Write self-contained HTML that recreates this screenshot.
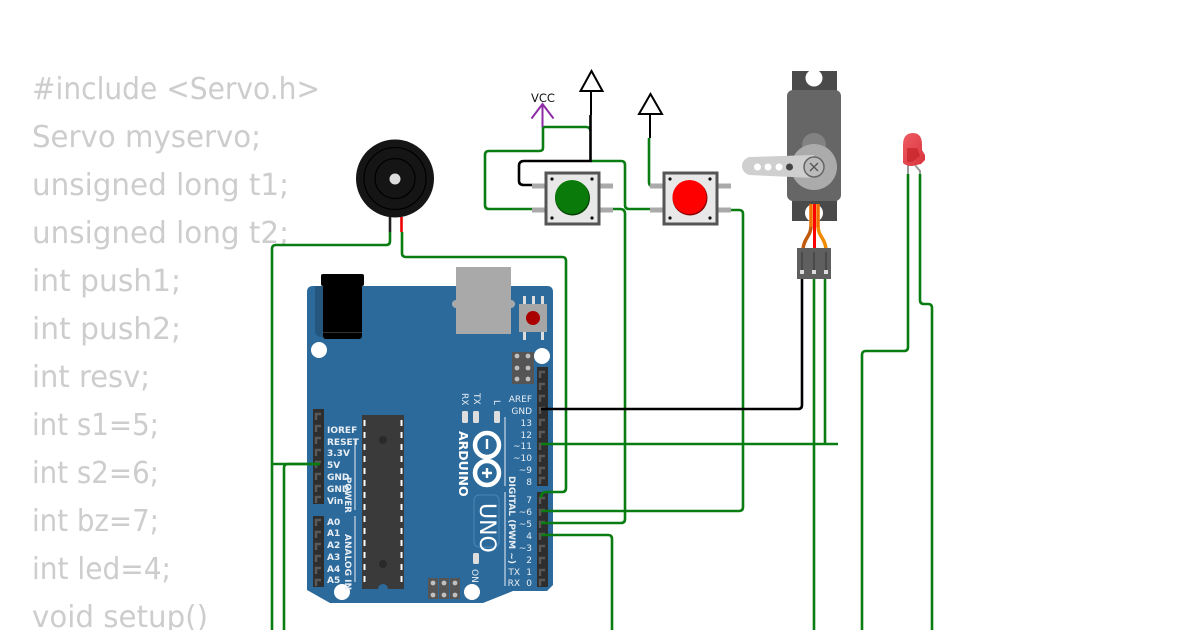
<!DOCTYPE html>
<html><head><meta charset="utf-8"><style>
html,body{margin:0;padding:0;background:#fff;width:1200px;height:630px;overflow:hidden}
svg{display:block}
.c{font-family:"DejaVu Sans","Liberation Sans",sans-serif;font-size:30px;fill:#cdcdcd}
.p{font-family:"DejaVu Sans","Liberation Sans",sans-serif;font-size:9px;fill:#e8eef4}
.b{font-weight:bold}
.w{fill:none;stroke:#0a7d12;stroke-width:2.6;stroke-linejoin:round}
.k{fill:none;stroke:#000;stroke-width:2.6}
</style></head><body>
<svg width="1200" height="630" viewBox="0 0 1200 630" xmlns="http://www.w3.org/2000/svg">
<defs>
<linearGradient id="led" x1="0" y1="0" x2="1" y2="1"><stop offset="0" stop-color="#ef5b63"/><stop offset="1" stop-color="#d8333c"/></linearGradient>
</defs>
<g class="c">
<text x="32" y="99" textLength="288" lengthAdjust="spacingAndGlyphs">#include &lt;Servo.h&gt;</text>
<text x="32" y="147" textLength="229" lengthAdjust="spacingAndGlyphs">Servo myservo;</text>
<text x="32" y="195" textLength="257" lengthAdjust="spacingAndGlyphs">unsigned long t1;</text>
<text x="32" y="243" textLength="257" lengthAdjust="spacingAndGlyphs">unsigned long t2;</text>
<text x="32" y="291" textLength="149" lengthAdjust="spacingAndGlyphs">int push1;</text>
<text x="32" y="339" textLength="149" lengthAdjust="spacingAndGlyphs">int push2;</text>
<text x="32" y="387" textLength="118" lengthAdjust="spacingAndGlyphs">int resv;</text>
<text x="32" y="435" textLength="127" lengthAdjust="spacingAndGlyphs">int s1=5;</text>
<text x="32" y="483" textLength="127" lengthAdjust="spacingAndGlyphs">int s2=6;</text>
<text x="32" y="531" textLength="127" lengthAdjust="spacingAndGlyphs">int bz=7;</text>
<text x="32" y="579" textLength="139" lengthAdjust="spacingAndGlyphs">int led=4;</text>
<text x="32" y="627" textLength="176" lengthAdjust="spacingAndGlyphs">void setup()</text>
</g>

<!-- Arduino -->
<path d="M307 292q0-6 6-6H547q6 0 6 6V585L547 591H513L483 603H330L307 590Z" fill="#2b6a9b"/>
<path d="M315 286h8v51q-8 0-8-6Z" fill="#24567e"/>
<rect x="321" y="274" width="43" height="12" rx="2" fill="#000"/>
<rect x="323" y="284" width="39" height="55" rx="3" fill="#000"/>
<rect x="323" y="332" width="39" height="1" fill="#333"/>
<circle cx="456" cy="304" r="4" fill="#a9a9a9"/><circle cx="511" cy="304" r="4" fill="#a9a9a9"/>
<rect x="456" y="267" width="55" height="67" fill="#a9a9a9"/>
<rect x="519" y="304" width="28" height="28" fill="#a6a6a6"/>
<path d="M523 296h3v8h-3zM532 296h3v8h-3zM541 296h3v8h-3zM523 332h3v8h-3zM541 332h3v8h-3z" fill="#ddd"/>
<circle cx="533" cy="318" r="7" fill="#a00"/>
<circle cx="319" cy="350" r="8" fill="#fff"/><circle cx="542" cy="356" r="8" fill="#fff"/>
<circle cx="342" cy="592" r="8" fill="#fff"/><circle cx="472" cy="592" r="8" fill="#fff"/>
<!-- ICSP -->
<rect x="512" y="352" width="22" height="32" fill="#555"/>
<g fill="#c0c0c0"><circle cx="517" cy="356" r="2.4"/><circle cx="528" cy="356" r="2.4"/><circle cx="517" cy="368" r="2.4"/><circle cx="528" cy="368" r="2.4"/><circle cx="517" cy="379" r="2.4"/><circle cx="528" cy="379" r="2.4"/></g>
<path d="M428 578h10v21h-10zM439 578h10v21h-10zM450 578h10v21h-10z" fill="#555"/>
<g fill="#c0c0c0"><circle cx="433" cy="583" r="2.4"/><circle cx="444" cy="583" r="2.4"/><circle cx="455" cy="583" r="2.4"/><circle cx="433" cy="595" r="2.4"/><circle cx="444" cy="595" r="2.4"/><circle cx="455" cy="595" r="2.4"/></g>
<!-- headers -->
<rect x="537" y="367" width="11" height="119" fill="#2e2e2e"/>
<rect x="537" y="492" width="11" height="95" fill="#2e2e2e"/>
<rect x="313" y="409" width="11" height="95" fill="#2e2e2e"/>
<rect x="313" y="516" width="11" height="71" fill="#2e2e2e"/>
<g stroke="#595959" stroke-width="2.4" fill="none">
<path d="M540 378v-6h5M540 390v-6h5M540 402v-6h5M540 414v-6h5M540 426v-6h5M540 438v-6h5M540 450v-6h5M540 462v-6h5M540 474v-6h5M540 484v-6h5M540 504v-6h5M540 516v-6h5M540 528v-6h5M540 540v-6h5M540 552v-6h5M540 564v-6h5M540 576v-6h5M540 586v-6h5"/>
<path d="M316 420v-6h5M316 432v-6h5M316 444v-6h5M316 456v-6h5M316 468v-6h5M316 480v-6h5M316 492v-6h5M316 503v-6h5M316 526v-6h5M316 538v-6h5M316 550v-6h5M316 562v-6h5M316 574v-6h5M316 586v-6h5"/>
</g>
<!-- chip -->
<rect x="362" y="415" width="42" height="174" fill="#3a3a3a"/>
<circle cx="383" cy="440" r="4" fill="#2a2a2a"/><circle cx="383" cy="564" r="4" fill="#2a2a2a"/>
<circle cx="383" cy="589" r="5" fill="#2b6a9b"/>
<path d="M364.500 420V584M401.500 420V584" stroke="#fff" stroke-width="2" stroke-dasharray="6 6"/>
<!-- labels right -->
<g class="p" text-anchor="end">
<text x="532" y="402">AREF</text><text x="532" y="414">GND</text><text x="532" y="426">13</text><text x="532" y="438">12</text><text x="532" y="449">~11</text><text x="532" y="461">~10</text><text x="532" y="473">~9</text><text x="532" y="485">8</text><text x="532" y="503">7</text><text x="532" y="515">~6</text><text x="532" y="527">~5</text><text x="532" y="539">4</text><text x="532" y="551">~3</text><text x="532" y="563">2</text><text x="532" y="575">1</text><text x="532" y="586">0</text>
<text x="520" y="575">TX</text><text x="520" y="586">RX</text>
</g>
<g class="p b">
<text x="327" y="433">IOREF</text><text x="327" y="445">RESET</text><text x="327" y="456">3.3V</text><text x="327" y="468">5V</text><text x="327" y="480">GND</text><text x="327" y="492">GND</text><text x="327" y="504">Vin</text>
<text x="327" y="525">A0</text><text x="327" y="536">A1</text><text x="327" y="548">A2</text><text x="327" y="560">A3</text><text x="327" y="572">A4</text><text x="327" y="583">A5</text>
</g>
<g class="p b">
<text transform="translate(345,477) rotate(90)" textLength="36" lengthAdjust="spacingAndGlyphs">POWER</text>
<text transform="translate(345,534) rotate(90)" textLength="56" lengthAdjust="spacingAndGlyphs">ANALOG IN</text>
<text transform="translate(509,476) rotate(90)" textLength="88" lengthAdjust="spacingAndGlyphs">DIGITAL (PWM ~)</text>
</g>
<path d="M355 440V510M355 516V582M505 417V486M505 492V586" stroke="#e8eef4" stroke-width="1" fill="none"/>
<g class="p">
<text transform="translate(462,393) rotate(90)">RX</text>
<text transform="translate(474,393) rotate(90)">TX</text>
<text transform="translate(494,400) rotate(90)">L</text>
<text transform="translate(472,569) rotate(90)">ON</text>
</g>
<rect x="462" y="411" width="6" height="12" rx="1.500" fill="#ddd"/><rect x="473" y="411" width="6" height="12" rx="1.500" fill="#ddd"/><rect x="494" y="411" width="6" height="12" rx="1.500" fill="#ddd"/><rect x="473" y="553" width="6" height="11" rx="1.500" fill="#ddd"/>
<text transform="translate(459,431) rotate(90)" class="p b" style="font-size:12.500px;fill:#fff">ARDUINO</text>
<circle cx="487" cy="445" r="12" fill="none" stroke="#fff" stroke-width="4.500"/>
<circle cx="487" cy="473" r="12" fill="none" stroke="#fff" stroke-width="4.500"/>
<path d="M487 439v10M482 473h10M487 468v10" stroke="#fff" stroke-width="2.400"/>
<rect x="474" y="495" width="25" height="52" rx="5" fill="none" stroke="#4b86b5" stroke-width="1"/>
<text transform="translate(480,503) rotate(90)" class="p" style="font-size:22px;fill:#fff">UNO</text>

<!-- Buzzer -->
<circle cx="395" cy="178.500" r="39" fill="#151515"/>
<g fill="none" stroke="#000" stroke-width="1.200"><circle cx="395" cy="178.500" r="31"/><circle cx="395" cy="178.500" r="20"/></g>
<circle cx="395" cy="179" r="5.500" fill="#ddd"/>
<path d="M390 217V232" stroke="#222" stroke-width="2.600"/>
<path d="M401.500 217V232" stroke="#e00" stroke-width="2.600"/>

<!-- Wires -->
<g class="w">
<path d="M390 232V241Q390 245 386 245H276Q272 245 272 249V630"/>
<path d="M272 464H320"/>
<path d="M284 630V468Q284 464 288 464H320"/>
<path d="M402 232V253Q402 257 406 257H562Q566 257 566 261V488Q566 492 562 492H546Q541 492 541 498"/>
<path d="M541 444H838"/>
<path d="M825 279V444"/>
<path d="M541 511H739Q743 511 743 507V214Q743 210 739 210H729"/>
<path d="M541 523H621Q625 523 625 519V214Q625 209 620 209H610"/>
<path d="M541 535H608Q612 535 612 539V630"/>
<path d="M591 161H621Q625 161 625 165V205Q625 209 629 209H655"/>
<path d="M543 127V148Q543 151 539 151H489Q485 151 485 155V205Q485 209 489 209H534"/>
<path d="M543 127H586Q590 127 590.500 131"/>
<path d="M649 138V182Q649 186 653 186H655"/>
<path d="M814 279V630"/>
<path d="M908 174V347Q908 351 904 351H866Q862 351 862 355V630"/>
<path d="M920 174V300Q920 304 924 304H928Q932 304 932 308V630"/>
</g>
<g class="k">
<path d="M590.500 115V161H524Q519 161 519 166V181Q519 185 524 185H534"/>
<path d="M541 409H798Q802 409 802 405V279"/>
</g>

<!-- Buttons -->
<g>
<path d="M532 186h14M532 210h14M600 186h13M600 210h13" stroke="#aaa" stroke-width="5"/>
<rect x="546" y="173" width="53" height="51" fill="#e8e8e8" stroke="#555" stroke-width="3"/>
<g fill="#111"><circle cx="552" cy="179" r="1.600"/><circle cx="592" cy="179" r="1.600"/><circle cx="552" cy="218" r="1.600"/><circle cx="592" cy="218" r="1.600"/></g>
<circle cx="572.500" cy="198" r="17.500" fill="#043f04"/>
<circle cx="572" cy="197" r="17" fill="#0a7a0a"/>
</g>
<g>
<path d="M650 186h14M650 210h14M718 186h13M718 210h13" stroke="#aaa" stroke-width="5"/>
<rect x="664" y="173" width="53" height="51" fill="#e8e8e8" stroke="#555" stroke-width="3"/>
<g fill="#111"><circle cx="670" cy="179" r="1.600"/><circle cx="710" cy="179" r="1.600"/><circle cx="670" cy="218" r="1.600"/><circle cx="710" cy="218" r="1.600"/></g>
<circle cx="690" cy="198" r="17.500" fill="#8a0000"/>
<circle cx="689.500" cy="197" r="17" fill="#f00"/>
</g>

<!-- Symbols -->
<text x="543" y="102" font-family="'DejaVu Sans','Liberation Sans',sans-serif" font-size="11.500" text-anchor="middle" fill="#111">VCC</text>
<path d="M542.500 127V104M531.500 118.500l11-14.500 11 14.500" fill="none" stroke="#8e2aa6" stroke-width="2"/>
<path d="M591.500 71 580.500 91H602.500Z" fill="#fff" stroke="#000" stroke-width="2"/>
<path d="M591 91V115" stroke="#000" stroke-width="2"/>
<path d="M650.500 94 639 114H662Z" fill="#fff" stroke="#000" stroke-width="2"/>
<path d="M650 114V138" stroke="#000" stroke-width="2"/>

<!-- Servo -->
<rect x="792" y="71" width="45" height="150" fill="#4a4a4a"/>
<circle cx="814" cy="78" r="8.500" fill="#fff"/>
<circle cx="814" cy="213" r="9" fill="#fff"/>
<rect x="787" y="90" width="54" height="111" rx="6" fill="#666"/>
<circle cx="814" cy="145" r="12" fill="#828282"/>
<circle cx="814" cy="167" r="23" fill="#ababab"/>
<path d="M749 157 814 155V178L749 175Q742 172 742 166 742 160 749 157Z" fill="#cfcfcf"/>
<circle cx="757.500" cy="167" r="3.500" fill="#fff"/><circle cx="768" cy="167" r="3.500" fill="#fff"/><circle cx="779" cy="167" r="3.500" fill="#fff"/><circle cx="789.500" cy="167" r="3.500" fill="#444"/>
<circle cx="814" cy="167" r="10" fill="#bbb" stroke="#666" stroke-width="1.500"/>
<path d="M810 163l8 8M818 163l-8 8" stroke="#555" stroke-width="1.300"/>
<path d="M811 226C811 236 804 238 803 249" fill="none" stroke="#c05a0a" stroke-width="3.500"/>
<path d="M818 226C818 236 825 238 826 249" fill="none" stroke="#f08a00" stroke-width="3.500"/>
<path d="M811 204V227M818 204V227" stroke="#f07000" stroke-width="3.500"/>
<path d="M814.500 204V249" stroke="#f00" stroke-width="3"/>
<rect x="797" y="248" width="34" height="31" fill="#5f5f5f"/>
<path d="M802 252V270M814 252V270M826 252V270" stroke="#333" stroke-width="1"/>
<path d="M800 270h4v4h-4zM812 270h4v4h-4zM824 270h4v4h-4z" fill="#ddd"/>

<!-- LED -->
<path d="M908 165V174M915 165 920 171V174" fill="none" stroke="#999" stroke-width="2"/>
<path d="M903 163V145Q903 133 913 133 922 133 922 145V150L925 155V160L921 164 912 166Q906 166 903 163Z" fill="url(#led)"/>
<path d="M907 148H917L920 156 912 162H907Z" fill="#c42228" opacity="0.7"/>
</svg>
</body></html>
